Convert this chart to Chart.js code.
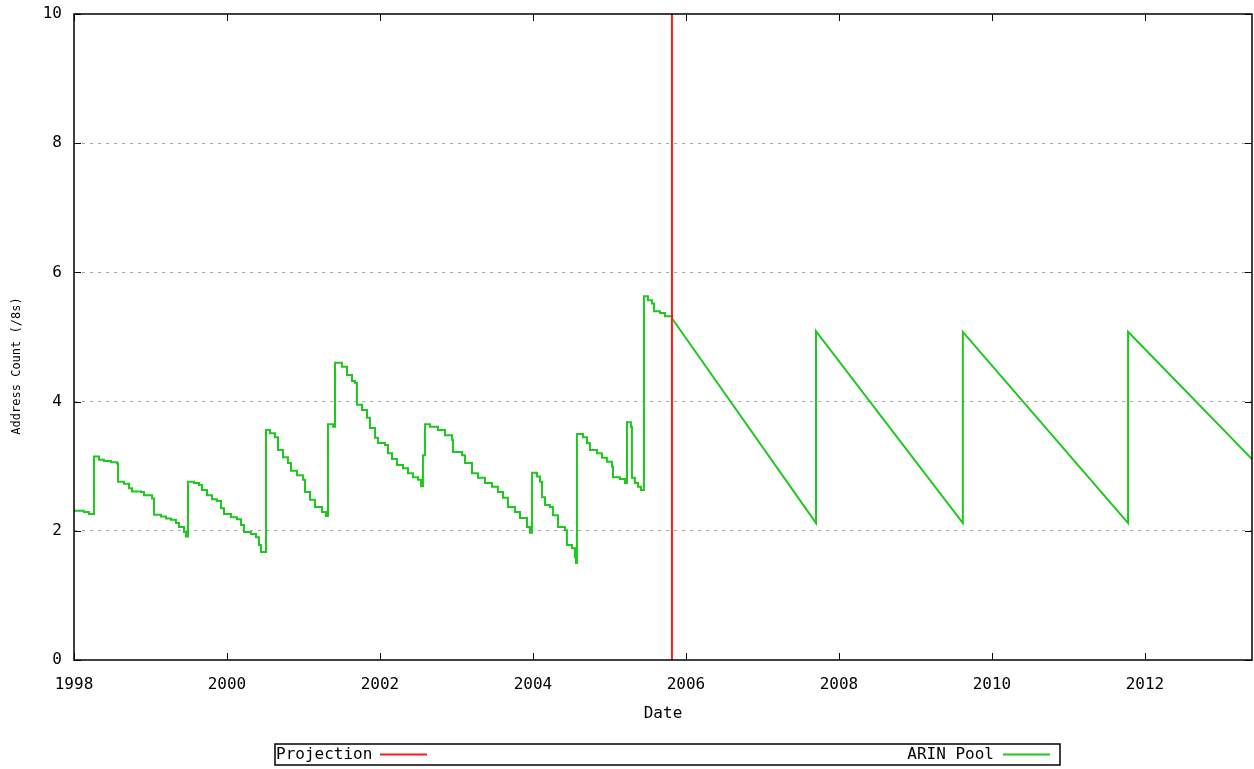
<!DOCTYPE html>
<html>
<head>
<meta charset="utf-8">
<title>ARIN Pool</title>
<script src="https://cdn.jsdelivr.net/npm/chart.js@4.4.1/dist/chart.umd.min.js"></script>
<style>
  html, body { margin:0; padding:0; background:#fff; }
  canvas { display:block; }
</style>
</head>
<body>
<canvas id="poolChart" width="1254" height="769"></canvas>
<script>
// observed pool size, stepped (value holds until next point)
const histYears = [
  1998.000, 1998.131, 1998.196, 1998.261, 1998.327, 1998.392, 1998.484, 1998.562, 1998.575, 1998.654,
  1998.719, 1998.758, 1998.876, 1998.915, 1999.020, 1999.046, 1999.137, 1999.203, 1999.268, 1999.333,
  1999.373, 1999.438, 1999.464, 1999.490, 1999.569, 1999.634, 1999.673, 1999.739, 1999.804, 1999.869,
  1999.922, 1999.961, 2000.052, 2000.131, 2000.183, 2000.222, 2000.314, 2000.379, 2000.418, 2000.444,
  2000.510, 2000.562, 2000.627, 2000.667, 2000.732, 2000.797, 2000.837, 2000.915, 2000.993, 2001.020,
  2001.085, 2001.150, 2001.242, 2001.294, 2001.320, 2001.386, 2001.412, 2001.503, 2001.569, 2001.634,
  2001.673, 2001.699, 2001.765, 2001.830, 2001.869, 2001.935, 2001.974, 2002.065, 2002.105, 2002.157,
  2002.222, 2002.301, 2002.366, 2002.431, 2002.497, 2002.536, 2002.562, 2002.588, 2002.654, 2002.758,
  2002.850, 2002.941, 2002.954, 2003.072, 2003.111, 2003.203, 2003.281, 2003.373, 2003.464, 2003.542,
  2003.608, 2003.673, 2003.765, 2003.830, 2003.922, 2003.961, 2003.987, 2004.052, 2004.092, 2004.118,
  2004.157, 2004.222, 2004.261, 2004.327, 2004.418, 2004.444, 2004.510, 2004.549, 2004.562, 2004.575,
  2004.654, 2004.706, 2004.745, 2004.837, 2004.902, 2004.967, 2005.033, 2005.046, 2005.137, 2005.203,
  2005.229, 2005.281, 2005.294, 2005.333, 2005.373, 2005.412, 2005.451, 2005.503, 2005.556, 2005.582,
  2005.660, 2005.725, 2005.817
];
const histCounts = [
  2.31, 2.29, 2.26, 3.15, 3.10, 3.08, 3.06, 3.04, 2.76, 2.73,
  2.66, 2.61, 2.60, 2.55, 2.50, 2.25, 2.22, 2.19, 2.17, 2.12,
  2.06, 1.98, 1.91, 2.76, 2.74, 2.71, 2.63, 2.55, 2.49, 2.46,
  2.35, 2.26, 2.21, 2.18, 2.09, 1.98, 1.95, 1.90, 1.78, 1.67,
  3.56, 3.51, 3.45, 3.25, 3.14, 3.05, 2.93, 2.86, 2.79, 2.60,
  2.48, 2.37, 2.29, 2.23, 3.65, 3.61, 4.60, 4.54, 4.41, 4.32,
  4.29, 3.95, 3.87, 3.75, 3.59, 3.44, 3.36, 3.33, 3.20, 3.11,
  3.02, 2.97, 2.89, 2.83, 2.79, 2.69, 3.17, 3.65, 3.61, 3.56,
  3.48, 3.41, 3.22, 3.17, 3.05, 2.89, 2.82, 2.74, 2.68, 2.60,
  2.51, 2.37, 2.29, 2.20, 2.06, 1.97, 2.90, 2.84, 2.76, 2.52,
  2.40, 2.37, 2.24, 2.06, 2.01, 1.78, 1.73, 1.59, 1.50, 3.50,
  3.45, 3.36, 3.25, 3.20, 3.13, 3.07, 2.99, 2.83, 2.80, 2.74,
  3.68, 3.61, 2.82, 2.74, 2.68, 2.63, 5.63, 5.57, 5.52, 5.40,
  5.37, 5.32, 5.29
];

// projected pool after the cut-over
const projYears  = [2005.817, 2007.70, 2007.70, 2009.62, 2009.62, 2011.78, 2011.78, 2013.40];
const projCounts = [5.29, 2.12, 5.09, 2.12, 5.08, 2.12, 5.08, 3.11];

const projectionYear = 2005.817;
const xTicks = [1998, 2000, 2002, 2004, 2006, 2008, 2010, 2012];
const yTicks = [0, 2, 4, 6, 8, 10];
const yTitle = 'Address Count (/8s)';

const FONT = "'DejaVu Sans Mono', monospace";
const GREEN = '#1ec81e';
const RED = '#ff1a1a';

function pairs(xs, ys){
  return xs.map((x, i) => ({x: x, y: ys[i]}));
}

// frame, inward tick marks, y title and the boxed gnuplot-style key
const gnuplotFrame = {
  id: 'gnuplotFrame',
  afterDraw(chart){
    const ctx = chart.ctx;
    const a = chart.chartArea;
    const xs = chart.scales.x, ys = chart.scales.y;
    ctx.save();
    ctx.strokeStyle = '#000';
    ctx.lineWidth = 1.5;
    ctx.strokeRect(a.left, a.top, a.right - a.left, a.bottom - a.top);

    ctx.lineWidth = 1;
    ctx.beginPath();
    yTicks.forEach(v => {
      const py = Math.round(ys.getPixelForValue(v)) + .5;
      ctx.moveTo(a.left, py); ctx.lineTo(a.left + 7, py);
      ctx.moveTo(a.right, py); ctx.lineTo(a.right - 7, py);
    });
    xTicks.forEach(v => {
      const px = Math.round(xs.getPixelForValue(v)) + .5;
      ctx.moveTo(px, a.bottom); ctx.lineTo(px, a.bottom - 7);
      ctx.moveTo(px, a.top); ctx.lineTo(px, a.top + 7);
    });
    ctx.stroke();

    // y title sits a bit below the middle, like gnuplot puts it
    ctx.save();
    ctx.translate(17, 366);
    ctx.rotate(-Math.PI / 2);
    ctx.font = '12px ' + FONT;
    ctx.fillStyle = '#000';
    ctx.textAlign = 'center';
    ctx.textBaseline = 'middle';
    ctx.fillText(yTitle, 0, 0);
    ctx.restore();

    // key box
    const box = {left: 275, top: 744, right: 1060, bottom: 765};
    ctx.lineWidth = 1.5;
    ctx.strokeRect(box.left, box.top, box.right - box.left, box.bottom - box.top);
    const items = chart.data.datasets.filter(d => !d.noKey);
    const midY = (box.top + box.bottom) / 2;
    ctx.font = '16px ' + FONT;
    ctx.fillStyle = '#000';
    ctx.textBaseline = 'middle';
    items.forEach((d, i) => {
      let sx;
      if(i === 0){
        ctx.textAlign = 'left';
        ctx.fillText(d.label, box.left + 1, midY);
        sx = box.left + 105;
      } else {
        ctx.textAlign = 'right';
        ctx.fillText(d.label, box.right - 66, midY);
        sx = box.right - 57;
      }
      ctx.strokeStyle = d.borderColor;
      ctx.lineWidth = 2;
      ctx.beginPath();
      ctx.moveTo(sx, midY); ctx.lineTo(sx + 47, midY);
      ctx.stroke();
    });
    ctx.restore();
  }
};

new Chart(document.getElementById('poolChart'), {
  type: 'line',
  data: {
    datasets: [
      {
        label: 'Projection',
        data: [{x: projectionYear, y: 0}, {x: projectionYear, y: 10}],
        borderColor: RED, borderWidth: 2, pointRadius: 0
      },
      {
        label: 'ARIN Pool',
        data: pairs(histYears, histCounts),
        borderColor: GREEN, borderWidth: 2, pointRadius: 0,
        stepped: true
      },
      {
        label: 'ARIN Pool',
        noKey: true,
        data: pairs(projYears, projCounts),
        borderColor: GREEN, borderWidth: 2, pointRadius: 0
      }
    ]
  },
  options: {
    responsive: false,
    animation: false,
    layout: {padding: {top: 14, right: 2, bottom: 40, left: 0}},
    plugins: {legend: {display: false}, tooltip: {enabled: false}},
    scales: {
      x: {
        type: 'linear',
        min: 1998, max: 2013.4,
        afterBuildTicks: s => { s.ticks = xTicks.map(v => ({value: v})); },
        afterFit: s => { s.height = 69; s.paddingLeft = 0; s.paddingRight = 0; },
        grid: {display: false, drawTicks: false},
        border: {display: false},
        ticks: {
          color: '#000', padding: 15, maxRotation: 0,
          font: {family: FONT, size: 16},
          callback: v => String(v)
        },
        title: {
          display: true, text: 'Date', color: '#000',
          font: {family: FONT, size: 16},
          padding: {top: 0, bottom: 6}
        }
      },
      y: {
        min: 0, max: 10,
        afterBuildTicks: s => { s.ticks = yTicks.map(v => ({value: v})); },
        afterFit: s => { s.width = 74; s.paddingTop = 0; s.paddingBottom = 0; },
        grid: {
          drawTicks: false,
          color: ctx => (ctx.tick.value === 0 || ctx.tick.value === 10) ? 'rgba(0,0,0,0)' : '#a8a8a8',
          lineWidth: 1
        },
        border: {display: false, dash: [3, 5]},
        ticks: {
          color: '#000', padding: 12,
          font: {family: FONT, size: 16}
        },
        title: {display: false}
      }
    }
  },
  plugins: [gnuplotFrame]
});
</script>
</body>
</html>
